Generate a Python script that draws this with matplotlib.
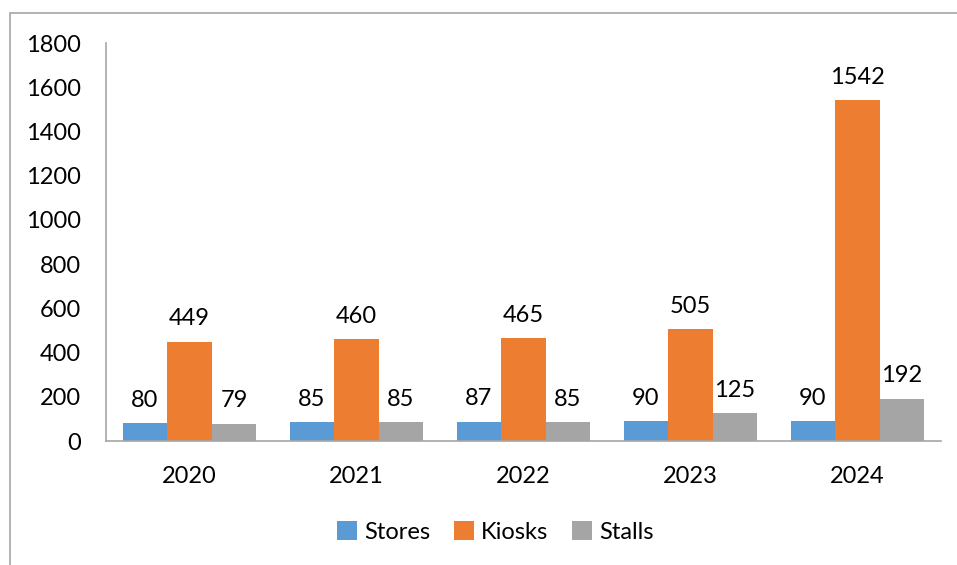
import matplotlib
matplotlib.use("Agg")
import matplotlib.pyplot as plt
import numpy as np
from matplotlib.patches import Rectangle

years = ["2020", "2021", "2022", "2023", "2024"]
stores = [80, 85, 87, 90, 90]
kiosks = [449, 460, 465, 505, 1542]
stalls = [79, 85, 85, 125, 192]
series_names = ["Stores", "Kiosks", "Stalls"]
colors = ["#5B9BD5", "#ED7D31", "#A5A5A5"]

plt.rcParams['font.family'] = ['Lato', 'DejaVu Sans']
FS = 17

fig = plt.figure(figsize=(9.57, 5.65), dpi=100)
W, H = 957, 565
ax = fig.add_axes([106 / W, 1 - 441 / H, (941 - 106) / W, (441 - 43) / H])

x = np.arange(len(years))
bw = 0.8 / 3
for i, (vals, name, c) in enumerate(zip([stores, kiosks, stalls], series_names, colors)):
    pos = x + (i - 1) * bw
    ax.bar(pos, vals, width=bw, color=c, label=name, zorder=2)
    for p, v in zip(pos, vals):
        ax.annotate(str(v), (p, v), xytext=(0, 9), textcoords="offset points",
                    ha="center", va="bottom", fontsize=FS, color="#000000")

ax.set_xlim(-0.5, len(years) - 0.5)
ax.set_ylim(0, 1800)
ax.set_yticks(np.arange(0, 1801, 200))
ax.set_xticks(x)
ax.set_xticklabels(years)
ax.tick_params(axis="both", length=0, labelsize=FS, colors="#000000")
ax.tick_params(axis="x", pad=18)
ax.tick_params(axis="y", pad=18)
for s in ["top", "right"]:
    ax.spines[s].set_visible(False)
for s in ["left", "bottom"]:
    ax.spines[s].set_color("#A6A6A6")
    ax.spines[s].set_linewidth(1.2)

fig.legend(loc="center", bbox_to_anchor=(495 / W, 1 - 532 / H), ncol=3,
           frameon=False, fontsize=FS, handlelength=0.85, handleheight=0.85,
           handletextpad=0.3, columnspacing=1.0)

fig.patches.append(Rectangle((10 / W, -0.1), 1.2, 1 - 13 / H + 0.1, transform=fig.transFigure,
                             fill=False, edgecolor="#A6A6A6", linewidth=1.2, zorder=0))

fig.savefig("out.png", dpi=100)
